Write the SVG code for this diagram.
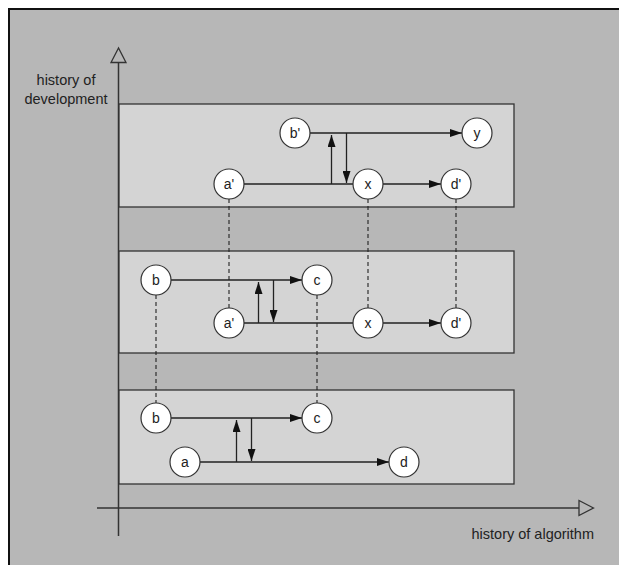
<svg xmlns="http://www.w3.org/2000/svg" width="619" height="565" viewBox="0 0 619 565">
<style>
.bg{fill:#b7b7b7;stroke:#111;stroke-width:2}
.panel{fill:#d4d4d4;stroke:#333;stroke-width:1.3}
.node circle{fill:#fff;stroke:#333;stroke-width:1.2}
text{font-family:"Liberation Sans",Arial,sans-serif;font-size:14.5px;fill:#222}
.node text{text-anchor:middle;dominant-baseline:central;font-size:14px}
.ln{stroke:#222;stroke-width:1.3;fill:none}
.dash{stroke:#222;stroke-width:1.1;stroke-dasharray:4,3;fill:none}
.axis{stroke:#333;stroke-width:1.5;fill:none}
</style>
<defs>
<marker id="ah" markerWidth="12" markerHeight="8" refX="12" refY="4" orient="auto" markerUnits="userSpaceOnUse">
<path d="M0,0 L12,4 L0,8 Z" fill="#111"/>
</marker>
</defs>
<rect class="bg" x="9" y="9" width="612" height="560"/>
<g id="axes">
<line class="axis" x1="118.5" y1="62" x2="118.5" y2="536"/>
<polygon points="118.5,48 111,62.5 126,62.5" fill="#b7b7b7" stroke="#333" stroke-width="1.3"/>
<line class="axis" x1="97" y1="508" x2="579" y2="508"/>
<polygon points="593.5,508 579,500.5 579,515.5" fill="#b7b7b7" stroke="#333" stroke-width="1.3"/>
<text x="66" y="85" text-anchor="middle">history of</text>
<text x="66" y="104" text-anchor="middle">development</text>
<text x="594" y="539" text-anchor="end">history of algorithm</text>
</g>
<g id="panels">
<rect id="panel-top" class="panel" x="119" y="104" width="395" height="103"/>
<rect id="panel-middle" class="panel" x="119" y="251" width="395" height="102"/>
<rect id="panel-bottom" class="panel" x="119" y="390" width="395" height="94"/>
</g>
<g id="connectors">
<line class="dash" x1="229" y1="199" x2="229" y2="308"/>
<line class="dash" x1="368" y1="199" x2="368" y2="308"/>
<line class="dash" x1="456" y1="199" x2="456" y2="308"/>
<line class="dash" x1="156" y1="295" x2="156" y2="403"/>
<line class="dash" x1="317" y1="295" x2="317" y2="403"/>
<line class="ln" x1="310" y1="133" x2="462" y2="133" marker-end="url(#ah)"/>
<line class="ln" x1="244" y1="184" x2="353" y2="184"/>
<line class="ln" x1="383" y1="184" x2="441" y2="184" marker-end="url(#ah)"/>
<line class="ln" x1="331.5" y1="184" x2="331.5" y2="135" marker-end="url(#ah)"/>
<line class="ln" x1="346.5" y1="133" x2="346.5" y2="183" marker-end="url(#ah)"/>
<line class="ln" x1="171" y1="280" x2="302" y2="280" marker-end="url(#ah)"/>
<line class="ln" x1="244" y1="323" x2="353" y2="323"/>
<line class="ln" x1="383" y1="323" x2="441" y2="323" marker-end="url(#ah)"/>
<line class="ln" x1="258.5" y1="323" x2="258.5" y2="282" marker-end="url(#ah)"/>
<line class="ln" x1="273.5" y1="280" x2="273.5" y2="322" marker-end="url(#ah)"/>
<line class="ln" x1="171" y1="418" x2="302" y2="418" marker-end="url(#ah)"/>
<line class="ln" x1="200" y1="462" x2="389" y2="462" marker-end="url(#ah)"/>
<line class="ln" x1="236.5" y1="462" x2="236.5" y2="420" marker-end="url(#ah)"/>
<line class="ln" x1="251.5" y1="418" x2="251.5" y2="461" marker-end="url(#ah)"/>
</g>
<g id="node-top-b" class="node"><circle cx="295" cy="133" r="15"/><text x="295" y="133">b'</text></g>
<g id="node-top-y" class="node"><circle cx="477" cy="133" r="15"/><text x="477" y="133">y</text></g>
<g id="node-top-a" class="node"><circle cx="229" cy="184" r="15"/><text x="229" y="184">a'</text></g>
<g id="node-top-x" class="node"><circle cx="368" cy="184" r="15"/><text x="368" y="184">x</text></g>
<g id="node-top-d" class="node"><circle cx="456" cy="184" r="15"/><text x="456" y="184">d'</text></g>
<g id="node-mid-b" class="node"><circle cx="156" cy="280" r="15"/><text x="156" y="280">b</text></g>
<g id="node-mid-c" class="node"><circle cx="317" cy="280" r="15"/><text x="317" y="280">c</text></g>
<g id="node-mid-a" class="node"><circle cx="229" cy="323" r="15"/><text x="229" y="323">a'</text></g>
<g id="node-mid-x" class="node"><circle cx="368" cy="323" r="15"/><text x="368" y="323">x</text></g>
<g id="node-mid-d" class="node"><circle cx="456" cy="323" r="15"/><text x="456" y="323">d'</text></g>
<g id="node-bot-b" class="node"><circle cx="156" cy="418" r="15"/><text x="156" y="418">b</text></g>
<g id="node-bot-c" class="node"><circle cx="317" cy="418" r="15"/><text x="317" y="418">c</text></g>
<g id="node-bot-a" class="node"><circle cx="185" cy="462" r="15"/><text x="185" y="462">a</text></g>
<g id="node-bot-d" class="node"><circle cx="404" cy="462" r="15"/><text x="404" y="462">d</text></g>
</svg>
